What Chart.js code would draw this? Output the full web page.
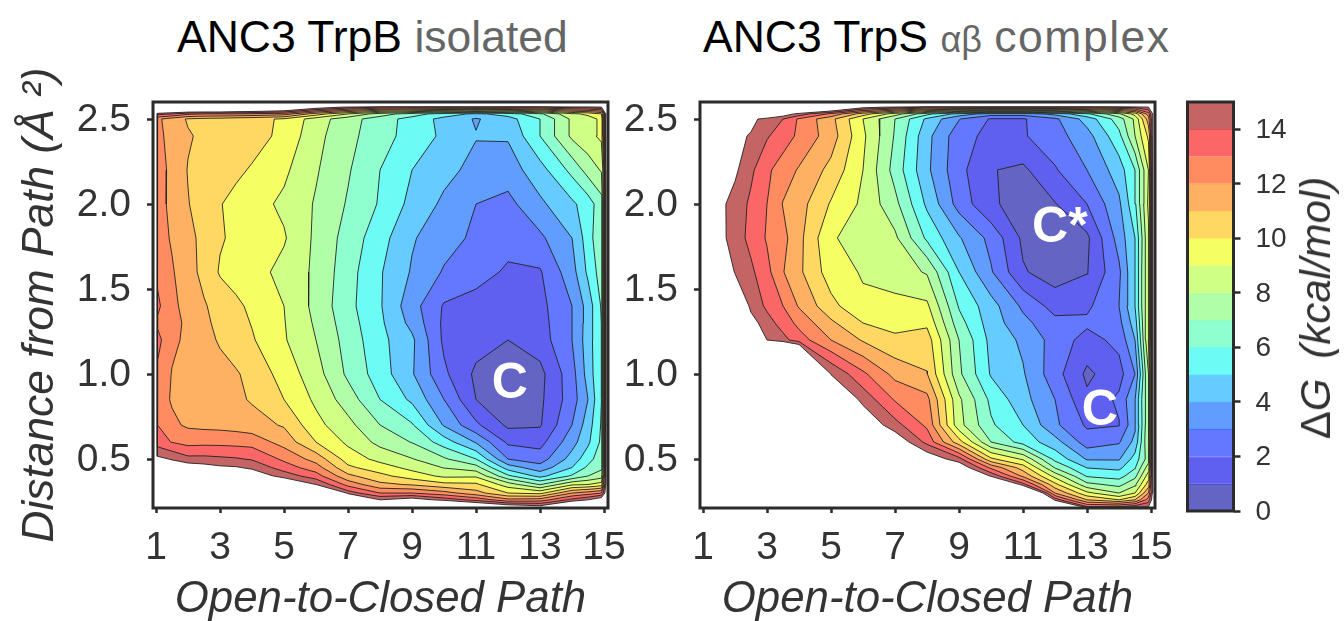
<!DOCTYPE html>
<html>
<head>
<meta charset="utf-8">
<script src="https://cdn.jsdelivr.net/npm/chart.js@4"></script>
<style>
html, body { margin: 0; background: #fff; }
body { width: 1344px; height: 621px; position: relative; overflow: hidden; font-family: "Liberation Sans", sans-serif; }
canvas { position: absolute; top: 0; }
.title { position: absolute; top: 12px; font-size: 44.5px; line-height: 50px; color: #000; white-space: nowrap; }
.title span { color: #666; }
.title small { font-size: 36px; color: #666; }
.barTitle { position: absolute; left: 1316px; top: 308px; transform: translate(-50%, -50%) rotate(-90deg); font-size: 42px; word-spacing: 8px; color: #333; white-space: nowrap; }
</style>
</head>
<body>
<div class="title" style="left:177px">ANC3 TrpB <span>isolated</span></div>
<div class="title" style="left:703px">ANC3 TrpS <small>αβ</small> <span style="letter-spacing:1.5px">complex</span></div>
<canvas id="left" width="640" height="626" style="left:0"></canvas>
<canvas id="right" width="622" height="626" style="left:622px"></canvas>
<canvas id="bar" width="170" height="621" style="left:1174px"></canvas>
<div class="barTitle">Δ<i>G (kcal/mol)</i></div>
<script>
// grid positions of the free energy maps
var xGrid = [0.95, 1.05, 1.5, 2, 2.5, 3, 3.5, 4, 5, 6, 7, 8, 9, 10, 11, 12, 13, 14, 14.5, 14.92, 15.08];
var yGrid = [2.6, 2.57, 2.53, 2.5, 2.4, 2.2, 2.0, 1.8, 1.6, 1.4, 1.3, 1.2, 1.0, 0.85, 0.7, 0.6, 0.5, 0.45, 0.4, 0.35, 0.3, 0.26, 0.22, 0.18];

// dG, one row per yGrid entry (30 = no data)
var dgIsolated = [
  [30,30,30,30,30,30,30,30,30,30,30,30,30,30,30,30,30,30,30,30,30],
  [30,22,20,20,20,20,19,19,18,16,14.8,14,14,14,14,14,14,14.5,14.6,15,16],
  [30,14.3,14,13.2,13,13,13,12.8,12.5,10.5,9,7.5,6.5,5.5,4.8,5.4,6.8,8.8,9.2,10,16],
  [30,12.2,11.5,10.9,10.7,10.6,10.4,10.3,9.87,8.5,7.4,6.5,5.6,4.7,3.9,4.6,6,8.2,8.6,9.2,16],
  [30,12.3,11.6,11.1,10.8,10.6,10.5,10.4,9.75,8.3,7.3,6.4,5.6,4.8,4.05,4.1,6,8.2,8.7,9.2,16],
  [30,12.5,11.7,10.95,10.7,10.4,10.2,9.9,9.2,8.1,7.1,6,5,4.3,3.7,3.5,4.6,6.3,7.4,8.1,16],
  [30,12.6,11.6,11.05,10.5,10.05,9.7,9.4,8.8,7.9,6.9,5.9,4.7,3.8,3,2.7,3.8,4.8,5.5,6.6,16],
  [30,12.4,11.9,11.3,10.7,10.1,9.8,9.5,9.1,7.8,6.6,5.4,4.1,3.4,2.8,2.35,2.8,4,5.5,6.9,16],
  [30,12.8,12.1,11.4,10.7,9.9,9.6,9.4,8.7,7.8,6.4,5.1,3.9,2.9,2.4,1.85,1.9,3.6,5.2,6.5,16],
  [30,13.2,12.2,11.7,11.1,10.6,10.2,9.8,9,7.7,6.3,5.1,3.4,1.9,1.6,1.3,1.7,3,4.4,6.1,16],
  [30,12.85,12.4,11.75,11.2,10.75,10.35,9.95,9.05,7.85,6.45,5.2,3.7,1.8,1.5,1.15,1.6,3,4.45,6.05,16],
  [30,13.3,12.2,11.8,11.3,10.9,10.5,10.1,9.1,8,6.6,5.3,4.2,1.8,1.4,1,1.5,3,4.5,6,16],
  [30,12.8,11.95,11.7,11.5,11.3,11.1,10.7,9.6,8.4,6.8,5.5,4.1,2.2,0.8,0.5,0.7,2.6,4.4,6,16],
  [30,12.5,11.9,11.75,11.6,11.4,11.2,10.9,10,8.8,7.5,6,4.8,3,1,0.5,0.8,2.5,4,6,16],
  [30,13,12.2,11.85,11.75,11.7,11.6,11.4,10.9,9.3,8.3,7,6.1,3.9,2.2,0.8,0.9,3,4.5,6.1,16],
  [30,13.5,12.95,12.65,12.7,12.7,12.65,12.6,11.6,10,8.8,7.7,6.95,5.5,3.9,1.8,1.65,3.6,4.8,6.2,16],
  [30,15.3,14.9,14.3,14.3,14.2,14.1,13.9,12.8,11.6,9.55,8.7,8.05,7.15,6,3,2.5,4.4,5.6,6.6,16],
  [30,25,15.9,15.8,15.5,15.2,15.1,14.8,13.5,12.45,10.2,9.45,8.7,7.95,7.4,4.5,3.4,5,6.2,6.8,16],
  [30,30,20,18,17.5,17,16.5,15.8,14.6,13.45,11.25,10.3,9.5,8.8,8.85,6.2,4.7,6.15,7,7.5,16],
  [30,30,30,30,30,30,25,20,16.5,15,12.65,11.25,10.9,10.3,10.2,8.5,6.95,8.85,9,9.5,16],
  [30,30,30,30,30,30,30,30,30,25,14.5,13,13,12.4,11.4,10,9.7,12,12.5,13,16],
  [30,30,30,30,30,30,30,30,30,30,20,15,15.7,14.6,13.7,12.3,12.45,14.3,15,16,30],
  [30,30,30,30,30,30,30,30,30,30,30,30,24,20,17,16,15.4,18,25,30,30],
  [30,30,30,30,30,30,30,30,30,30,30,30,30,30,30,30,30,30,30,30,30]
];
var dgComplex = [
  [30,30,30,30,30,30,30,30,30,30,30,30,30,30,30,30,30,30,30,30,30],
  [30,30,30,30,30,25,22,20,18,15.5,14.8,14,14,14,14,14,14,14.2,14.4,15,16],
  [30,30,30,30,30,17,15.8,14.6,12.8,10.5,8.5,6.3,4.6,3.5,3.5,4.3,5.8,7.8,9.4,12.5,16],
  [30,30,30,25,15.3,14.6,14,12.85,11.3,9,7,4.8,3.05,1.9,1.9,2.8,4.4,6.5,8.2,11.5,16],
  [30,30,30,15.3,14.9,14.1,13.5,12.8,11.5,9.2,6.9,4.3,2.4,1.7,1.9,2.6,3.6,5.7,8,10.2,16],
  [30,30,22,15.2,14.2,13.2,12.5,11.9,10.7,9,6.6,4.2,2.3,1.05,0.8,1.9,3,4.5,6,9,16],
  [30,30,15.3,14.6,13.8,13,11.95,11.4,9.9,8.8,7.3,4.8,2.6,1.15,0.6,0.95,2,3.8,5.8,9.2,16],
  [30,30,15.4,14.5,13.7,12.9,12.3,11.3,9.1,8.6,8.2,5.8,4.1,2.7,0.8,0.5,0.8,3.4,5,8.8,16],
  [30,30,17,14.9,14.2,13.3,12.05,11.2,9.5,8.9,8.5,7.9,5,3.1,1.1,0.5,0.95,2.8,5,9,16],
  [30,30,30,17,14.7,13.8,13,11.9,10.3,9.2,9.3,9.2,5.9,4.4,2.8,1.6,1.8,3,5,9,16],
  [30,30,30,30,15.5,14.4,13.6,12.7,11.2,10,9.7,9.8,6.4,4.5,3.3,2.3,2.2,2.7,4.5,9,16],
  [30,30,30,30,20,15,14.3,13.5,12,10.9,10.2,10.5,7,4.7,3.8,2.6,1.6,2.3,4,9,16],
  [30,30,30,30,30,30,30,25,14.95,13.2,11.7,11.05,7.2,4.9,4.1,2.4,0.8,1.6,3,8,16],
  [30,30,30,30,30,30,30,30,16.9,14.67,12.9,12.3,8.2,5.75,4.35,3,1.2,2.2,4,8,16],
  [30,30,30,30,30,30,30,30,30,16.1,14.36,12.8,8.35,6.15,5,3.2,1.85,1.95,3.8,8,16],
  [30,30,30,30,30,30,30,30,30,30,16,13.7,10.4,7,5.6,4.4,2.5,2.9,4.3,8,16],
  [30,30,30,30,30,30,30,30,30,30,30,15.9,14.4,10.2,8.85,5.7,3.9,3.9,5.4,7.5,16],
  [30,30,30,30,30,30,30,30,30,30,30,25,16,12.75,10.5,6.9,4.95,4.75,5.9,8.5,16],
  [30,30,30,30,30,30,30,30,30,30,30,30,20,14.8,11.8,8.65,5.9,5.6,6.7,9.5,16],
  [30,30,30,30,30,30,30,30,30,30,30,30,30,20,14.4,10.3,7.3,6.7,7.8,10.5,16],
  [30,30,30,30,30,30,30,30,30,30,30,30,30,30,20,12,9.25,8,9,12,16],
  [30,30,30,30,30,30,30,30,30,30,30,30,30,30,30,14.6,11,10,11,13.5,16],
  [30,30,30,30,30,30,30,30,30,30,30,30,30,30,30,20,14,14,14.5,14.8,30],
  [30,30,30,30,30,30,30,30,30,30,30,30,30,30,30,30,30,30,30,30,30]
];

var xTicks = [1, 3, 5, 7, 9, 11, 13, 15];
var yTicks = [0.5, 1.0, 1.5, 2.0, 2.5];
var barTicks = [0, 2, 4, 6, 8, 10, 12, 14];
var levels = [1, 2, 3, 4, 5, 6, 7, 8, 9, 10, 11, 12, 13, 14, 15];
var bandColors = ['#6464c4', '#6060f0', '#6477ff', '#619cff', '#66ccff', '#6dfbf6', '#8fffcf', '#b0ffa8',
  '#d0ff85', '#f5ff64', '#ffd863', '#ffb163', '#ff8b60', '#fb6666', '#c56464', '#ffffff'];
var bandEdges = ['#3c3ccc', '#5a5af5', '#3a6cff', '#5ab4ff', '#5ae0ff', '#70ffe0', '#90ffc0', '#b8ff90',
  '#dcff70', '#ffe85a', '#ffc850', '#ffa050', '#ff7050', '#e05050', '#c56464'];

var ink = '#2b2b2b';
var labelFont = '"Liberation Sans"';

// marching squares: closed loops of one level, region below the level kept on the left
function traceLevel(xs, ys, z, level) {
  function cross(i0, j0, i1, j1) {
    var t = (level - z[j0][i0]) / (z[j1][i1] - z[j0][i0]);
    return { x: xs[i0] + t * (xs[i1] - xs[i0]), y: ys[j0] + t * (ys[j1] - ys[j0]) };
  }
  var next = {}, pts = {};
  for (var j = 0; j < ys.length - 1; j++) {
    for (var i = 0; i < xs.length - 1; i++) {
      var corners = [[i, j], [i + 1, j], [i + 1, j + 1], [i, j + 1]];
      var hits = [];
      for (var k = 0; k < 4; k++) {
        var a = corners[k], b = corners[(k + 1) % 4];
        var inA = z[a[1]][a[0]] < level, inB = z[b[1]][b[0]] < level;
        if (inA !== inB) {
          var key = [Math.min(a[0], b[0]), Math.min(a[1], b[1]), a[0] === b[0] ? 'v' : 'h'].join('_');
          pts[key] = cross(a[0], a[1], b[0], b[1]);
          hits.push({ key: key, out: inA });
        }
      }
      for (var h = 0; h < hits.length; h++) {
        if (hits[h].out) next[hits[h].key] = hits[(h + 1) % hits.length].key;
      }
    }
  }
  var loops = [], seen = {};
  Object.keys(next).forEach(function (start) {
    if (seen[start]) return;
    var loop = [], cur = start;
    while (cur && !seen[cur]) {
      seen[cur] = true;
      loop.push(pts[cur]);
      cur = next[cur];
    }
    loop.push(loop[0]);
    loops.push(loop);
  });
  return loops;
}

function signedArea(loop) {
  var s = 0;
  for (var i = 0; i < loop.length - 1; i++) s += loop[i].x * loop[i + 1].y - loop[i + 1].x * loop[i].y;
  return s / 2;
}

// one filled dataset per loop, biggest painted first (chart.js paints the last dataset first)
function contourDatasets(z) {
  var xs = xGrid, ys = yGrid.slice().reverse(), rows = z.slice().reverse();
  var shapes = [];
  levels.forEach(function (level) {
    traceLevel(xs, ys, rows, level).forEach(function (loop) {
      var area = signedArea(loop);
      if (Math.abs(area) < 1e-6) return;
      shapes.push({ loop: loop, size: Math.abs(area), color: bandColors[area > 0 ? level - 1 : level] });
    });
  });
  shapes.sort(function (a, b) { return a.size - b.size; });
  return shapes.map(function (s) {
    return {
      data: s.loop,
      showLine: true,
      fill: 'shape',
      backgroundColor: s.color,
      borderColor: '#222',
      borderWidth: 0.9,
      pointRadius: 0,
      tension: 0
    };
  });
}

var framePlugin = {
  id: 'frame',
  afterDatasetsDraw: function (chart, args, opts) {
    var a = chart.chartArea, ctx = chart.ctx;
    ctx.save();
    (opts.marks || []).forEach(function (m) {
      ctx.fillStyle = '#fff';
      ctx.font = 'bold 50px ' + labelFont;
      ctx.textAlign = 'center';
      ctx.textBaseline = 'middle';
      ctx.fillText(m.text, chart.scales.x.getPixelForValue(m.x), chart.scales.y.getPixelForValue(m.y));
    });
    ctx.strokeStyle = ink;
    ctx.lineWidth = 3;
    ctx.strokeRect(a.left, a.top, a.right - a.left, a.bottom - a.top);
    ctx.restore();
  }
};

function mapChart(id, z, marks, yTitle, padLeft, padRight, yWidth) {
  return new Chart(document.getElementById(id), {
    type: 'scatter',
    data: { datasets: contourDatasets(z) },
    plugins: [framePlugin],
    options: {
      responsive: false,
      animation: false,
      layout: { padding: { top: 102, right: padRight, left: padLeft } },
      plugins: { legend: { display: false }, tooltip: { enabled: false }, frame: { marks: marks } },
      scales: {
        x: {
          type: 'linear', min: 0.906, max: 15.125,
          grid: { drawOnChartArea: false, tickLength: 5, tickWidth: 2.5, tickColor: ink },
          border: { display: false },
          afterBuildTicks: function (s) { s.ticks = xTicks.map(function (v) { return { value: v }; }); },
          afterFit: function (s) { s.height = 118; s.paddingLeft = 0; s.paddingRight = 0; },
          ticks: { font: { size: 39, family: labelFont }, color: '#333', padding: 12, maxRotation: 0, autoSkip: false },
          title: { display: true, text: 'Open-to-Closed Path', color: '#333', padding: 0, font: { size: 43.8, style: 'italic', family: labelFont } }
        },
        y: {
          type: 'linear', min: 0.212, max: 2.6,
          grid: { drawOnChartArea: false, tickLength: 6, tickWidth: 2.5, tickColor: ink },
          border: { display: false },
          afterBuildTicks: function (s) { s.ticks = yTicks.map(function (v) { return { value: v }; }); },
          afterFit: function (s) { s.width = yWidth; s.paddingTop = 0; s.paddingBottom = 0; },
          ticks: { font: { size: 39, family: labelFont }, color: '#333', padding: 16, labelOffset: 1, autoSkip: false,
            callback: function (v) { return Number(v).toFixed(1); } },
          title: { display: !!yTitle, text: yTitle, color: '#333', padding: 0, font: { size: 44.3, style: 'italic', family: labelFont } }
        }
      }
    }
  });
}

mapChart('left', dgIsolated, [{ text: 'C', x: 12.06, y: 0.94 }], 'Distance from Path (Å ²)', 14, 32, 139);
mapChart('right', dgComplex, [{ text: 'C*', x: 12.15, y: 1.855 }, { text: 'C', x: 13.4, y: 0.78 }], '', 0, 89, 78);

// colour bar: one floating bar per band
new Chart(document.getElementById('bar'), {
  type: 'bar',
  data: {
    labels: ['dG'],
    datasets: bandColors.slice(0, 15).map(function (c, i) {
      return {
        data: [[i, levels[i]]], backgroundColor: c, barPercentage: 1, categoryPercentage: 1, grouped: false,
        borderColor: bandEdges[i], borderWidth: { top: 1, bottom: 0, left: 0, right: 0 }, borderSkipped: false
      };
    })
  },
  plugins: [framePlugin],
  options: {
    responsive: false,
    animation: false,
    layout: { padding: { top: 102, left: 13.5, right: 0, bottom: 110 } },
    plugins: { legend: { display: false }, tooltip: { enabled: false }, frame: {} },
    scales: {
      x: { display: false },
      y: {
        position: 'right', min: 0, max: 15,
        grid: { drawOnChartArea: false, tickLength: 7, tickWidth: 2.5, tickColor: ink },
        border: { display: false },
        afterBuildTicks: function (s) { s.ticks = barTicks.map(function (v) { return { value: v }; }); },
        afterFit: function (s) { s.width = 110.5; s.paddingTop = 0; s.paddingBottom = 0; },
        ticks: { font: { size: 28, family: labelFont }, color: '#333', padding: 15, labelOffset: 1, autoSkip: false }
      }
    }
  }
});
</script>
</body>
</html>
